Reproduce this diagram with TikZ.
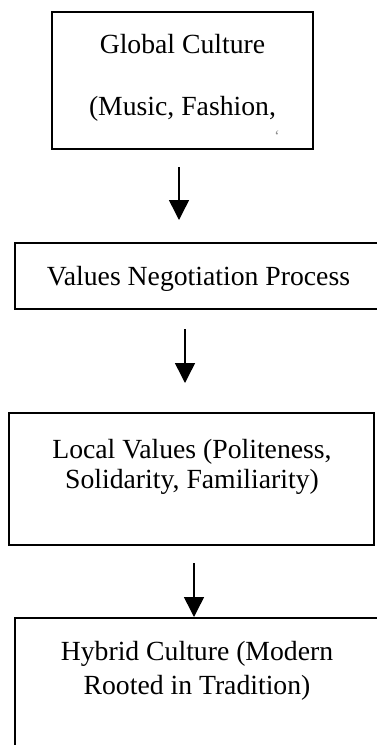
\documentclass[tikz,border=0pt]{standalone}
\usepackage{fontspec}
\setmainfont{Liberation Serif}
\usetikzlibrary{arrows.meta}
\begin{document}
\begin{tikzpicture}[x=1pt,y=-1pt,
  box/.style={draw=black, line width=2.4pt, rectangle, inner sep=0pt, outer sep=0pt},
  label/.style={anchor=base, inner sep=0pt, font=\fontsize{27.7}{30}\selectfont},
  flow/.style={line width=1.5pt, -{Triangle[width=20pt,length=20pt]}}]
  \useasboundingbox (0,0) rectangle (377,745);
  \clip (0,0) rectangle (377,745);

  % boxes
  \node[box, minimum width=261pt, minimum height=137pt] (global) at (182.5,80.5) {};
  \node[box, minimum width=367pt, minimum height=66pt]  (nego)   at (198.5,276) {};
  \node[box, minimum width=365pt, minimum height=132pt] (local)  at (191.5,479) {};
  \node[box, minimum width=365pt, minimum height=152pt] (hybrid) at (197.5,694) {};

  % labels
  \node[label] (g1) at (182.5,53)  {Global Culture};
  \node[label] (g2) at (182.5,115) {(Music, Fashion,};
  \node[anchor=center, inner sep=0pt, text=black!45, font=\fontsize{16}{16}\selectfont] (gmark) at (277,136) {\char"0060};
  \node[label] (n1) at (198.5,285) {Values Negotiation Process};
  \node[label] (l1) at (192,458)   {Local Values (Politeness,};
  \node[label] (l2) at (192,488)   {Solidarity, Familiarity)};
  \node[label] (h1) at (197,660)   {Hybrid Culture (Modern};
  \node[label] (h2) at (197,694)   {Rooted in Tradition)};

  % arrows between stages
  \coordinate (a1s) at (179,167);
  \coordinate (a1e) at (179,220);
  \coordinate (a2s) at (185,329);
  \coordinate (a2e) at (185,383);
  \coordinate (a3s) at (194,563);
  \coordinate (a3e) at (194,617);
  \draw[flow] (a1s) -- (a1e);
  \draw[flow] (a2s) -- (a2e);
  \draw[flow] (a3s) -- (a3e);
\end{tikzpicture}
\end{document}
